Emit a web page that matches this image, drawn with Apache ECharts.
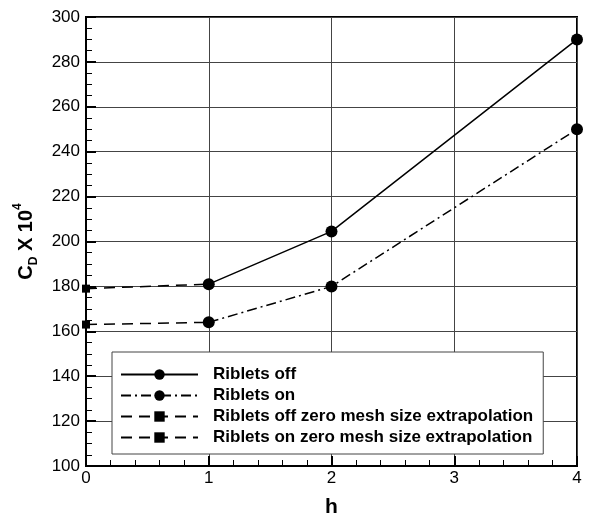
<!DOCTYPE html>
<html>
<head>
<meta charset="utf-8">
<script src="https://cdn.jsdelivr.net/npm/echarts@6/dist/echarts.min.js"></script>
<style>
  html, body { margin: 0; padding: 0; background: #fff; }
  #container { width: 590px; height: 513px; }
</style>
</head>
<body>
<div id="container"></div>
<script>
var dom = document.getElementById("container");
var myChart = echarts.init(dom);

// data
var hOn = [1, 2, 4];
var ribletsOff = [181, 204.5, 290];
var ribletsOn = [164, 180, 250];
var hExtra = [0, 1];
var offExtra = [179, 181];
var onExtra = [163, 164];
var names = ['Riblets off', 'Riblets on',
  'Riblets off zero mesh size extrapolation',
  'Riblets on zero mesh size extrapolation'];

function pairs(xs, ys) {
  return xs.map(function (x, i) { return [x, ys[i]]; });
}
function extraPairs(xs, ys) {
  // square marker only at the extrapolated (h=0) point
  return xs.map(function (x, i) {
    return i === 0 ? [x, ys[i]] : { value: [x, ys[i]], symbol: 'none' };
  });
}

var font = 'Liberation Sans, Arial, sans-serif';

var option = {
  animation: false,
  grid: {
    left: 86, right: 13, top: 17, bottom: 47,
    outerBoundsMode: 'none', containLabel: false,
    show: true, borderColor: '#000', borderWidth: 2
  },
  legend: {
    orient: 'vertical',
    left: 112, top: 352,
    padding: [14, 10, 8, 8],
    itemWidth: 77, itemHeight: 13, itemGap: 4,
    backgroundColor: '#fff',
    borderColor: '#444', borderWidth: 1,
    borderRadius: 0,
    textStyle: { fontFamily: font, fontSize: 17, lineHeight: 17, fontWeight: 'bold', color: '#000', padding: [0, 0, 0, 10] },
    data: names
  },
  xAxis: {
    type: 'value', min: 0, max: 4, interval: 1,
    name: 'h', nameLocation: 'middle', nameGap: 31,
    nameTextStyle: { fontFamily: font, fontSize: 21, fontWeight: 'bold', color: '#000' },
    axisLine: { lineStyle: { color: '#000', width: 2 } },
    axisTick: { inside: true, length: 10, lineStyle: { color: '#000', width: 2 } },
    minorTick: { show: true, splitNumber: 5, length: 6, lineStyle: { color: '#000', width: 1 } },
    axisLabel: { fontFamily: font, fontSize: 17, color: '#000', margin: 4 },
    splitLine: { show: true, lineStyle: { color: '#444', width: 1 } }
  },
  yAxis: {
    type: 'value', min: 100, max: 300, interval: 20,
    name: '{m|C}{sub|D}{m| X 10}{sup|4}', nameLocation: 'middle', nameGap: 46,
    nameTextStyle: {
      fontFamily: font, fontSize: 20, fontWeight: 'bold', color: '#000',
      rich: {
        m: { fontFamily: font, fontSize: 20, fontWeight: 'bold', color: '#000', lineHeight: 28 },
        sub: { fontFamily: font, fontSize: 12, fontWeight: 'bold', color: '#000', verticalAlign: 'bottom', lineHeight: 28 },
        sup: { fontFamily: font, fontSize: 12, fontWeight: 'bold', color: '#000', verticalAlign: 'top', lineHeight: 28 }
      }
    },
    axisLine: { lineStyle: { color: '#000', width: 2 } },
    axisTick: { inside: true, length: 10, lineStyle: { color: '#000', width: 2 } },
    minorTick: { show: true, splitNumber: 4, length: 6, lineStyle: { color: '#000', width: 1 } },
    axisLabel: { fontFamily: font, fontSize: 17, color: '#000', margin: 6 },
    splitLine: { show: true, lineStyle: { color: '#444', width: 1 } }
  },
  series: [
    {
      name: names[0], type: 'line', data: pairs(hOn, ribletsOff),
      symbol: 'circle', symbolSize: 12, color: '#000',
      lineStyle: { color: '#000', width: 1.5, type: 'solid' },
      itemStyle: { color: '#000' }, z: 5
    },
    {
      name: names[1], type: 'line', data: pairs(hOn, ribletsOn),
      symbol: 'circle', symbolSize: 12, color: '#000',
      lineStyle: { color: '#000', width: 1.5, type: [10, 4, 2, 4] },
      itemStyle: { color: '#000' }, z: 5
    },
    {
      name: names[2], type: 'line', data: extraPairs(hExtra, offExtra),
      symbol: 'rect', symbolSize: 8, color: '#000',
      lineStyle: { color: '#000', width: 1.5, type: [11, 7] },
      itemStyle: { color: '#000' }, z: 4
    },
    {
      name: names[3], type: 'line', data: extraPairs(hExtra, onExtra),
      symbol: 'rect', symbolSize: 8, color: '#000',
      lineStyle: { color: '#000', width: 1.5, type: [11, 7] },
      itemStyle: { color: '#000' }, z: 4
    }
  ]
};

myChart.setOption(option, true);
</script>
</body>
</html>
